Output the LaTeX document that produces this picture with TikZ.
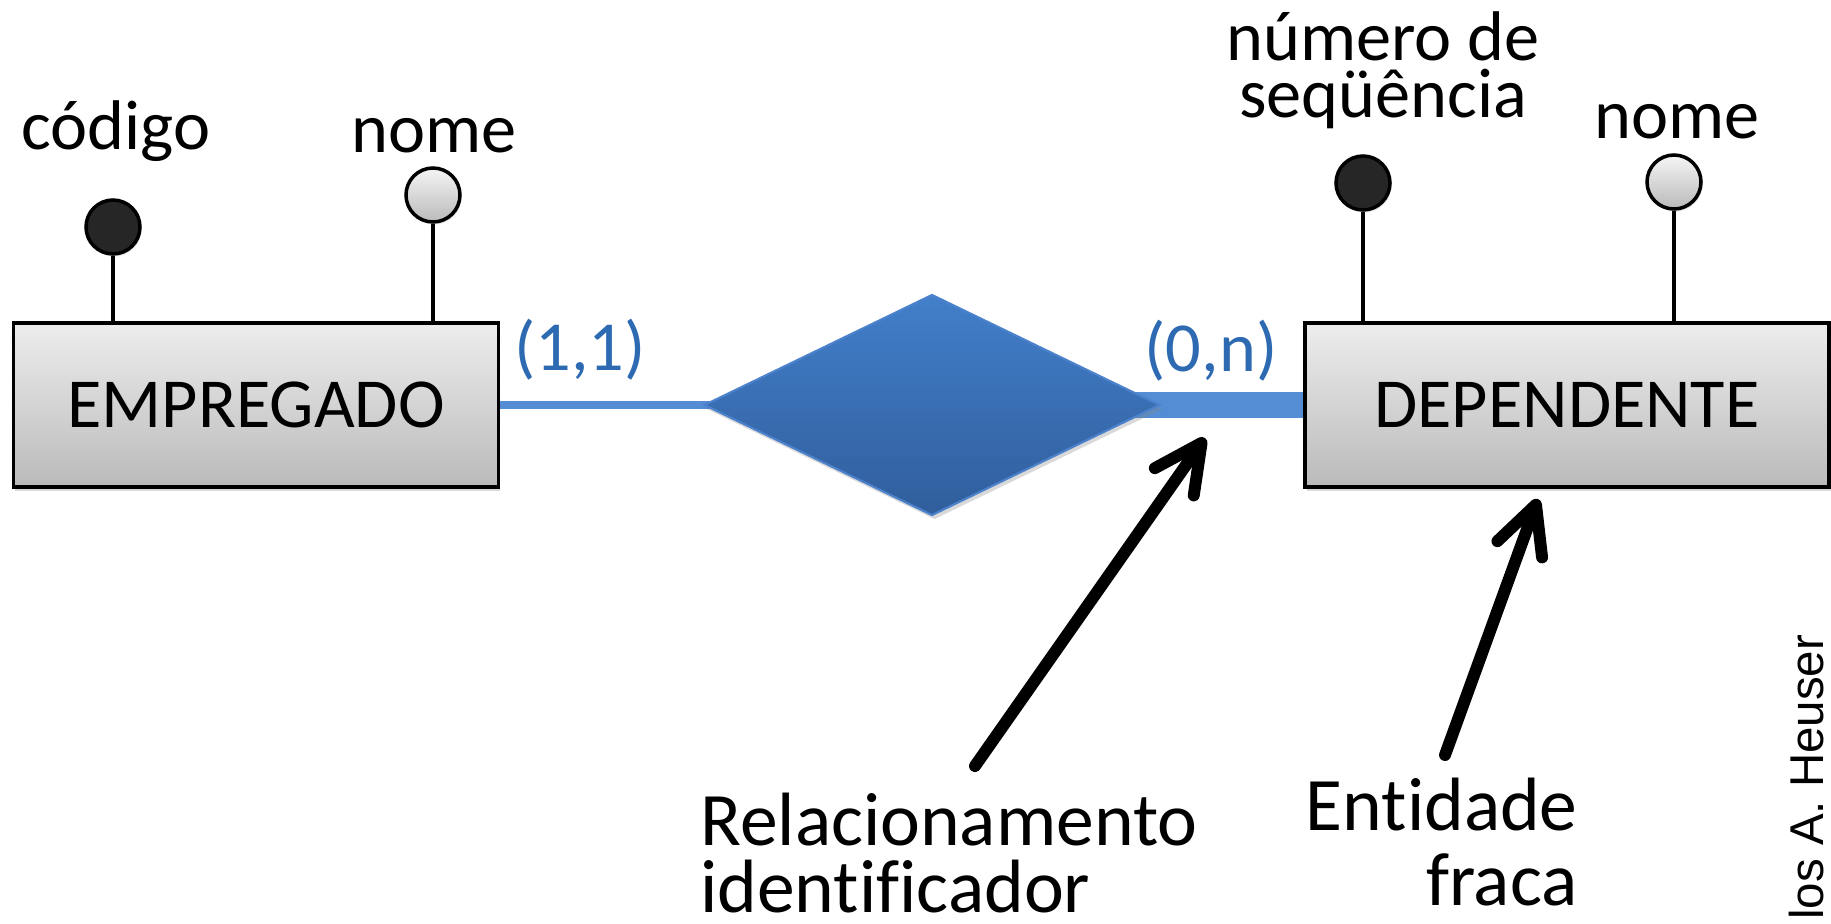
\documentclass[tikz,border=0pt]{standalone}
\usepackage{fontspec}
\setmainfont{Carlito}[Ligatures=CommonOff]
\newfontfamily\creditfont{Liberation Sans}
\usepackage{xcolor}
\usetikzlibrary{arrows.meta,positioning,shapes.geometric,shadows,backgrounds}

\definecolor{linkblue}{RGB}{84,141,212}
\definecolor{cardblue}{RGB}{46,106,178}
\definecolor{reltop}{RGB}{66,127,202}
\definecolor{relbot}{RGB}{48,94,156}
\definecolor{reledge}{RGB}{76,130,204}
\definecolor{keygray}{RGB}{38,38,38}

\begin{document}
\begin{tikzpicture}[
    font=\fontsize{40}{48}\selectfont,
    entity/.style={draw, line width=2.2pt, top color=black!7, bottom color=black!27,
        minimum width=9.7cm, minimum height=3.28cm, inner sep=0pt,
        drop shadow={opacity=0.3, shadow xshift=0.03cm, shadow yshift=-0.08cm}},
    relation/.style={diamond, draw=reledge, line width=1.2pt, top color=reltop, bottom color=relbot,
        minimum width=9.12cm, minimum height=4.42cm, inner sep=0pt,
        drop shadow={opacity=0.3, shadow xshift=0.05cm, shadow yshift=-0.08cm}},
    keyattr/.style={circle, draw, line width=2pt, fill=keygray, minimum size=1.08cm, inner sep=0pt,
        drop shadow={opacity=0.2, shadow xshift=0.03cm, shadow yshift=-0.05cm}},
    attr/.style={circle, draw, line width=2pt, top color=black!4, bottom color=black!27,
        minimum size=1.08cm, inner sep=0pt,
        drop shadow={opacity=0.2, shadow xshift=0.03cm, shadow yshift=-0.05cm}},
    stem/.style={line width=2pt},
    link/.style={draw=linkblue},
    attrname/.style={anchor=base, inner sep=0pt},
    card/.style={text=cardblue, anchor=base, inner sep=0pt},
    notetext/.style={inner sep=0pt},
    pointer/.style={line width=6.8pt, line cap=round, line join=round,
        -{Straight Barb[length=0.95cm, width=0.95cm, round]}}
]
\useasboundingbox (0,0) rectangle (36.62,-18.46);

% entities and relationship
\node[entity] (emp) at (5.12,-8.10) {EMPREGADO};
\node[entity, minimum width=10.48cm] (dep) at (31.34,-8.10) {DEPENDENTE};
\node[relation] (rel) at (18.64,-8.10) {};

\begin{scope}[on background layer]
\draw[link, line width=5pt] (emp.east) -- (rel.center);
\draw[link, line width=15pt] (rel.center) -- (dep.west);
\end{scope}

\node[card] (card11) at (11.60,-7.40) {(1,1)};
\node[card] (card0n) at (24.22,-7.42) {(0,n)};

% attributes
\node[keyattr] (cod) at (2.26,-4.54) {};
\node[attr] (nomeemp) at (8.66,-3.90) {};
\node[keyattr] (seq) at (27.26,-3.66) {};
\node[attr] (nomedep) at (33.48,-3.64) {};
\draw[stem] (cod) -- (cod |- emp.north);
\draw[stem] (nomeemp) -- (nomeemp |- emp.north);
\draw[stem] (seq) -- (seq |- dep.north);
\draw[stem] (nomedep) -- (nomedep |- dep.north);

\node[attrname] (codlbl) at (2.32,-2.98) {código};
\node[attrname] (nomeemplbl) at (8.68,-3.04) {nome};
\node[attrname, align=center, font=\fontsize{40}{32}\selectfont] (seqlbl) at (27.66,-2.34) {número de\\seqüência};
\node[attrname] (nomedeplbl) at (33.54,-2.76) {nome};

% annotations
\node[notetext, align=left, anchor=base west, font=\fontsize{43}{38}\selectfont] (identlbl) at (14.00,-18.24) {Relacionamento\\identificador};
\node[notetext, align=right, anchor=base east, font=\fontsize{43}{42.5}\selectfont] (fracalbl) at (31.56,-18.10) {Entidade\\fraca};
\coordinate (identtail) at (19.50,-15.32);
\coordinate (identtip) at (24.10,-8.76);
\coordinate (fracatail) at (28.90,-15.10);
\coordinate (fracatip) at (30.76,-9.98);
\draw[pointer] (identtail) -- (identtip);
\draw[pointer] (fracatail) -- (fracatip);

\node[rotate=90, anchor=base west, inner sep=0pt, font=\creditfont\fontsize{27}{32}\selectfont] (credit) at (36.47,-18.40) {los A. Heuser};
\end{tikzpicture}
\end{document}
